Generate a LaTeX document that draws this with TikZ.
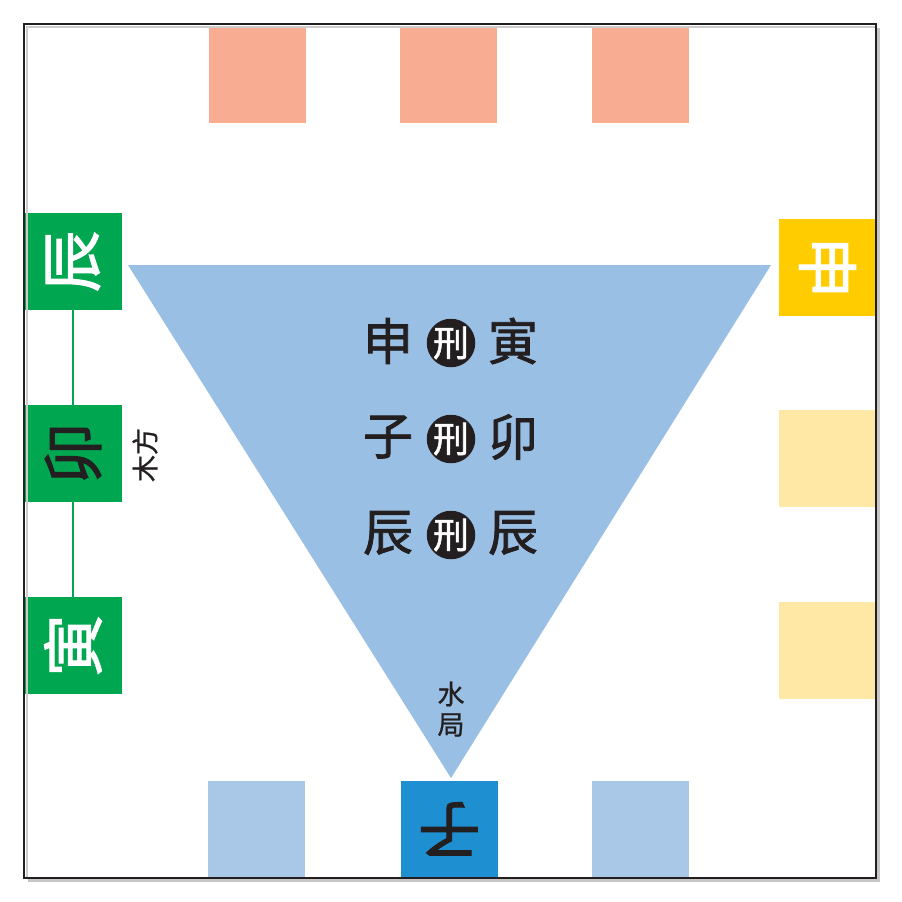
\documentclass[tikz,border=0pt]{standalone}
\usepackage{fontspec}
\newfontfamily\cjk[FakeBold=1.6]{Noto Sans CJK SC}
\newfontfamily\cjkthin[FakeBold=0.8]{Noto Sans CJK SC}
\definecolor{pinkc}{HTML}{F8AC91}
\definecolor{greenc}{HTML}{00A650}
\definecolor{yellowc}{HTML}{FFCC00}
\definecolor{lyellowc}{HTML}{FFE7A5}
\definecolor{lbluec}{HTML}{A9C8E8}
\definecolor{dbluec}{HTML}{1E8FD0}
\definecolor{trianglec}{HTML}{99BFE4}
\definecolor{inkc}{HTML}{231F20}
\tikzset{
  cell/.style={draw=none, minimum width=97pt, minimum height=97pt, inner sep=0pt, font=\cjk\fontsize{62}{62}\selectfont},
  bigchar/.style={inner sep=0pt, text=inkc, font=\cjk\fontsize{50}{50}\selectfont},
  xing/.style={circle, fill=inkc, minimum size=47pt, inner sep=0pt, text=white, font=\cjk\fontsize{36}{36}\selectfont},
  smalltext/.style={inner sep=0pt, text=inkc, font=\cjkthin\fontsize{27}{27}\selectfont},
  linkline/.style={draw=greenc, line width=1.5pt}
}
\begin{document}
\begin{tikzpicture}[x=1pt,y=1pt]
\useasboundingbox (0,0) rectangle (902,-902);
\fill[white] (0,0) rectangle (902,-902);
% shadow
\fill[black!22] (28,-28) rectangle (880,-882);
\fill[white] (24,-24) rectangle (876,-878);
% triangle
\fill[trianglec] (128,-265) -- (771,-265) -- (451,-778) -- cycle;
% top squares
\node[cell, fill=pinkc] (t1) at (257.5,-74) {};
\node[cell, fill=pinkc] (t2) at (448.5,-74) {};
\node[cell, fill=pinkc] (t3) at (640.5,-74) {};
% left squares
\node[cell, fill=greenc, text=white] (chen) at (73,-261.5) {\rotatebox{90}{辰}};
\node[cell, fill=greenc, text=inkc] (mao) at (73,-453.5) {\rotatebox{90}{卯}};
\node[cell, fill=greenc, text=white] (yin) at (73,-645.5) {\rotatebox{90}{寅}};
\draw[linkline] (chen.south) -- (mao.north);
\draw[linkline] (mao.south) -- (yin.north);
% right squares
\node[cell, fill=yellowc, text=white] (shen) at (827.5,-267.5) {\rotatebox{-90}{申}};
\node[cell, fill=lyellowc] (r2) at (827.5,-458.5) {};
\node[cell, fill=lyellowc] (r3) at (827.5,-650.5) {};
% bottom squares
\node[cell, fill=lbluec] (b1) at (256.5,-829) {};
\node[cell, fill=dbluec, text=inkc] (zi) at (449.5,-829) {\rotatebox{180}{子}};
\node[cell, fill=lbluec] (b3) at (640.5,-829) {};
% labels
\node[smalltext, rotate=90] (mufang) at (145,-455) {木方};
\node[smalltext] (shui) at (451,-694) {水};
\node[smalltext] (ju) at (451,-725) {局};
% center rows
\node[bigchar] (a1) at (388,-341) {申};
\node[xing] (x1) at (451,-343) {刑};
\node[bigchar] (a2) at (513,-341) {寅};
\node[bigchar] (b1c) at (388,-437) {子};
\node[xing] (x2) at (451,-439) {刑};
\node[bigchar] (b2c) at (513,-437) {卯};
\node[bigchar] (c1) at (388,-533) {辰};
\node[xing] (x3) at (451,-535) {刑};
\node[bigchar] (c2) at (513,-533) {辰};
% border
\draw[inkc, line width=2pt] (24,-24) rectangle (876,-878);
\draw[black!20, line width=2pt] (27,-877) -- (27,-27) -- (875,-27);
\end{tikzpicture}
\end{document}
